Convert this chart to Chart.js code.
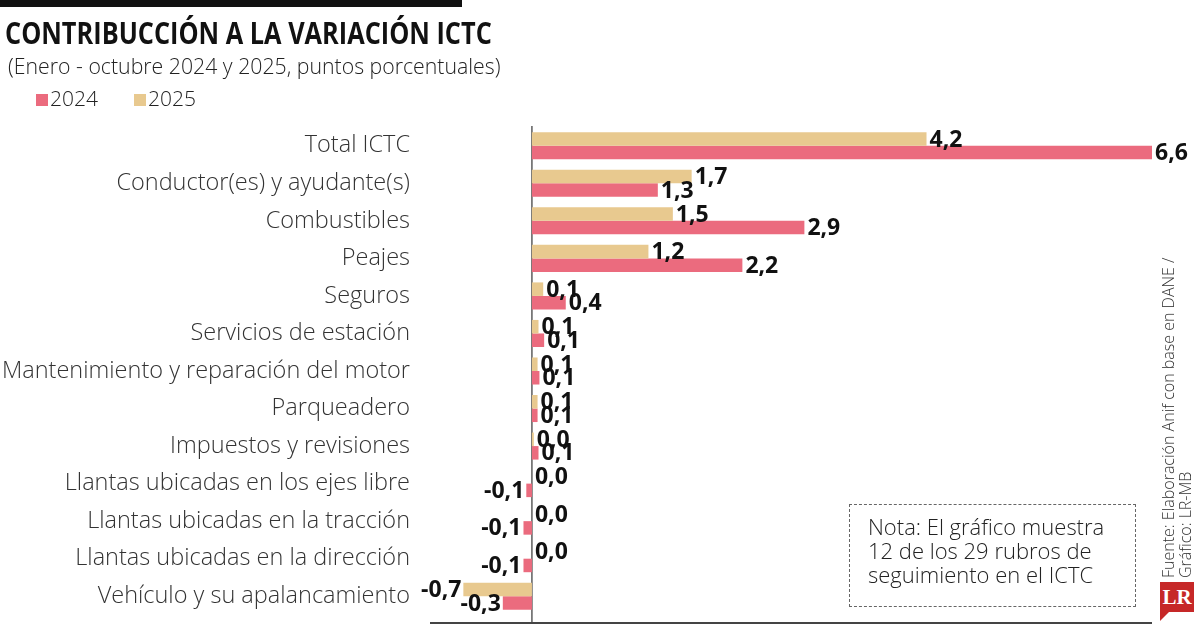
<!DOCTYPE html>
<html>
<head>
<meta charset="utf-8">
<script src="https://cdn.jsdelivr.net/npm/chart.js@4/dist/chart.umd.min.js"></script>
<style>
  html, body { margin: 0; padding: 0; background: #fff; }
  #wrap { position: relative; width: 1200px; height: 628px; overflow: hidden; font-family: 'Open Sans', sans-serif; color: #222; }
  #myChart { position: absolute; left: 0; top: 0; }
  .fit { position: absolute; white-space: nowrap; transform-origin: left top; display: inline-block; }
</style>
</head>
<body>
<div id="wrap">
  <canvas id="myChart" width="1200" height="628"></canvas>
  <div style="position:absolute;left:0;top:0;width:462px;height:7px;background:#111"></div>
  <div id="title" class="fit" style="left:5px;top:12px;font-size:30px;font-weight:700;color:#111">CONTRIBUCCIÓN A LA VARIACIÓN ICTC</div>
  <div id="subtitle" class="fit" style="left:8px;top:50px;font-size:22px;font-weight:300;color:#222">(Enero - octubre 2024 y 2025, puntos porcentuales)</div>
  <div id="legend" style="position:absolute;left:36px;top:84px;font-size:21px;font-weight:300;color:#222"></div>
  <div id="nota" style="position:absolute;left:849px;top:504px;width:287px;height:103px;box-sizing:border-box;border:1.5px dashed #666;padding:9px 0 0 18px;font-size:22px;font-weight:300;line-height:24px;color:#222">Nota: El gráfico muestra<br>12 de los 29 rubros de<br>seguimiento en el ICTC</div>
  <div style="position:absolute;left:1160px;top:578px;transform-origin:left top;transform:rotate(-90deg);white-space:nowrap;font-size:16px;font-weight:300;line-height:17px;color:#333">Fuente: Elaboración Anif con base en DANE /<br>Gráfico: LR-MB</div>
  <div style="position:absolute;left:1160px;top:582px;width:34px;height:30px;background:#c62828;color:#fff;font:bold 21px 'Liberation Serif',serif;text-align:center;line-height:30px">LR</div>
  <div style="position:absolute;left:1160px;top:612px;width:0;height:0;border-top:9px solid #c62828;border-right:9px solid transparent"></div>
</div>
<script>
const categories = [
  'Total ICTC',
  'Conductor(es) y ayudante(s)',
  'Combustibles',
  'Peajes',
  'Seguros',
  'Servicios de estación',
  'Mantenimiento y reparación del motor',
  'Parqueadero',
  'Impuestos y revisiones',
  'Llantas ubicadas en los ejes libre',
  'Llantas ubicadas en la tracción',
  'Llantas ubicadas en la dirección',
  'Vehículo y su apalancamiento'
];
const values2025 = [4.2, 1.7, 1.5, 1.24, 0.12, 0.07, 0.06, 0.06, 0.02, 0.0, 0.0, 0.0, -0.73];
const values2024 = [6.6, 1.34, 2.9, 2.24, 0.36, 0.13, 0.08, 0.06, 0.07, -0.06, -0.09, -0.09, -0.31];
const seriesNames = ['2024', '2025'];

const pink = '#eb6b7e';
const tan = '#e8c98f';

// fit title lines to the reference widths
function fitWidth(id, w) {
  const el = document.getElementById(id);
  el.style.transform = 'scaleX(' + (w / el.offsetWidth) + ')';
}
fitWidth('title', 487);
fitWidth('subtitle', 492);

document.getElementById('legend').innerHTML =
  '<span style="display:inline-block;width:12px;height:12px;background:' + pink + ';margin-right:2px"></span>' + seriesNames[0] +
  '<span style="display:inline-block;width:12px;height:12px;background:' + tan + ';margin:0 2px 0 36px"></span>' + seriesNames[1];

function fmt(v) {
  return v.toFixed(1).replace('.', ',');
}

const axisLines = {
  id: 'axisLines',
  beforeDatasetsDraw(chart) {
    const ctx = chart.ctx;
    const x0 = chart.scales.x.getPixelForValue(0);
    const area = chart.chartArea;
    ctx.save();
    ctx.strokeStyle = '#333';
    ctx.lineWidth = 1.2;
    ctx.beginPath();
    ctx.moveTo(x0, 126);
    ctx.lineTo(x0, 622);
    ctx.stroke();
    ctx.lineWidth = 2;
    ctx.strokeStyle = '#444';
    ctx.beginPath();
    ctx.moveTo(area.left, 623);
    ctx.lineTo(area.right, 623);
    ctx.stroke();
    ctx.restore();
  }
};

const barLabels = {
  id: 'barLabels',
  afterDatasetsDraw(chart) {
    const ctx = chart.ctx;
    ctx.save();
    ctx.font = 'bold 23px "Open Sans"';
    ctx.fillStyle = '#111';
    ctx.textBaseline = 'middle';
    chart.data.datasets.forEach((ds, i) => {
      chart.getDatasetMeta(i).data.forEach((bar, j) => {
        const v = ds.data[j];
        if (v < 0) {
          ctx.textAlign = 'right';
          ctx.fillText(fmt(v), bar.x - 2, bar.y + 1);
        } else {
          ctx.textAlign = 'left';
          ctx.fillText(fmt(v), bar.x + 3, bar.y + 1);
        }
      });
    });
    ctx.restore();
  }
};

new Chart(document.getElementById('myChart').getContext('2d'), {
  type: 'bar',
  data: {
    labels: categories,
    datasets: [
      { label: '2025', data: values2025, backgroundColor: tan },
      { label: '2024', data: values2024, backgroundColor: pink }
    ]
  },
  options: {
    indexAxis: 'y',
    responsive: false,
    animation: false,
    categoryPercentage: 0.72,
    barPercentage: 1.0,
    layout: { padding: { top: 127, bottom: 13, left: 0, right: 48 } },
    plugins: {
      legend: { display: false },
      tooltip: { enabled: false }
    },
    scales: {
      x: { display: false, min: -1.085, max: 6.6 },
      y: {
        grid: { display: false, drawTicks: false },
        border: { display: false },
        ticks: {
          padding: 20,
          color: '#333',
          font: { family: 'Open Sans', size: 23.5, weight: '300' },
          autoSkip: false
        },
        afterFit(scale) {
          scale.width = 430;
          scale.paddingTop = 0;
          scale.paddingBottom = 0;
        }
      }
    }
  },
  plugins: [axisLines, barLabels]
});
</script>
</body>
</html>
